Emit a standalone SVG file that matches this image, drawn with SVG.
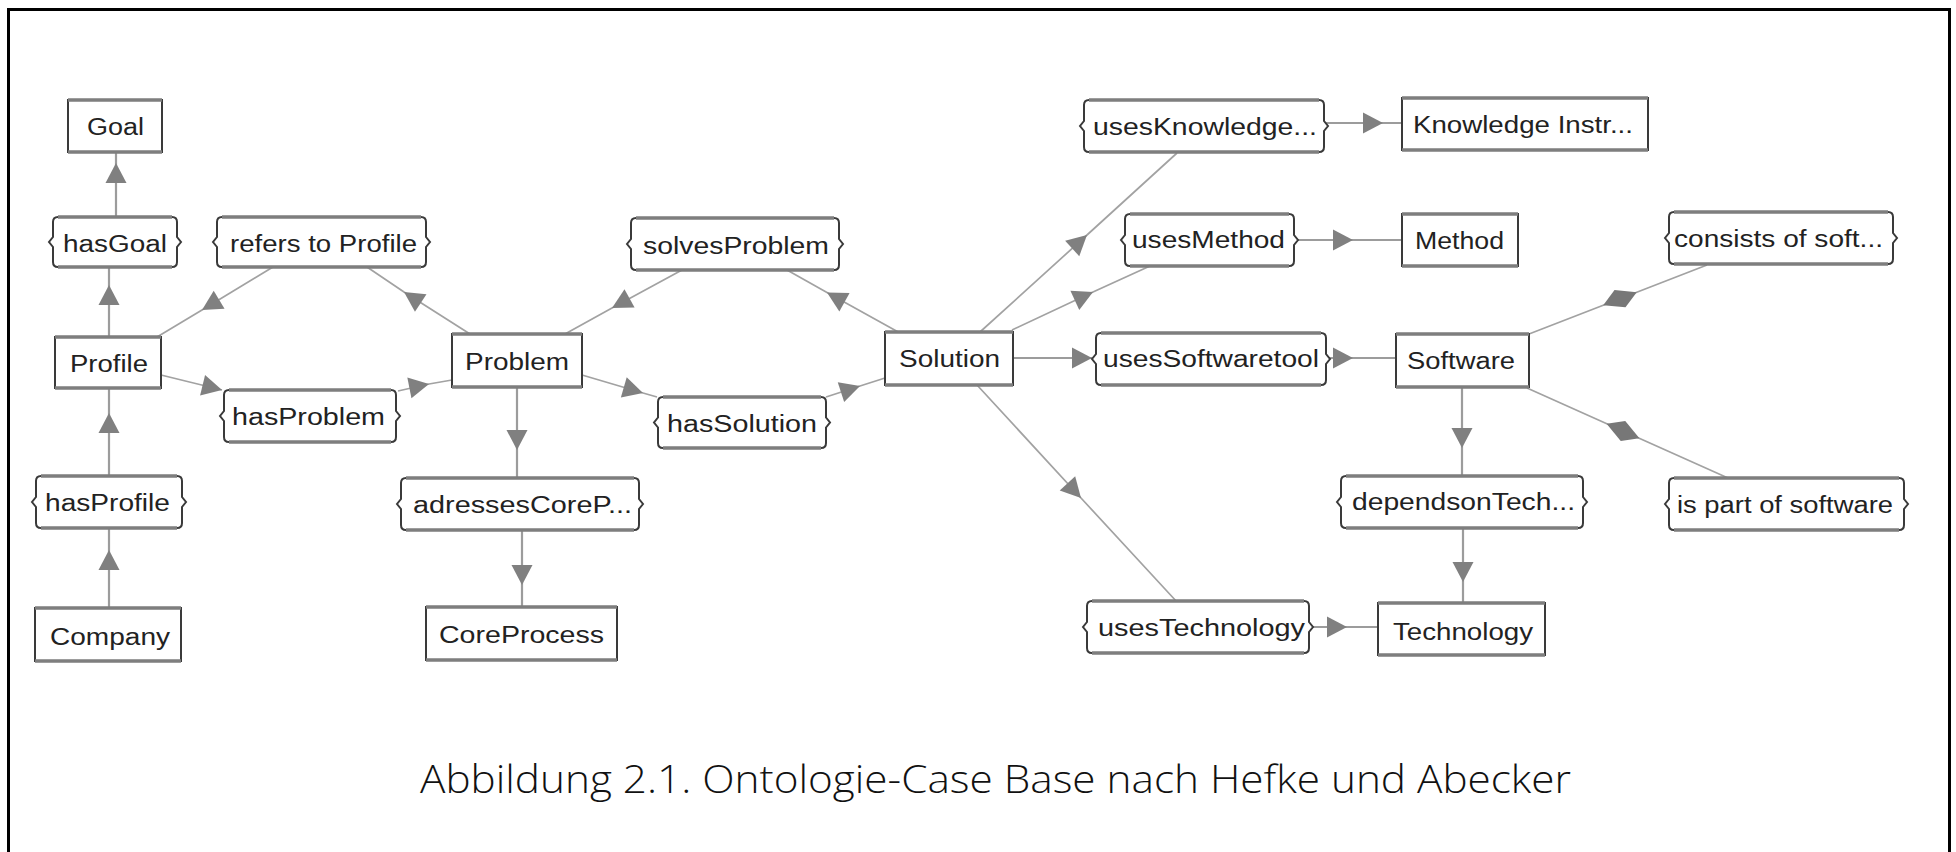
<svg xmlns="http://www.w3.org/2000/svg" width="1956" height="852" viewBox="0 0 1956 852">
  <style>
    .frame { fill: none; stroke: #000; stroke-width: 3; }
    .box { fill: #fff; stroke: #3a3a3a; stroke-width: 2; }
    .band { fill: none; stroke: #7e7e7e; stroke-width: 3.5; }
    .lbl { font-family: "Liberation Sans", Arial, sans-serif; font-size: 23px; fill: #222; }
    .edge { fill: none; stroke: #9c9c9c; stroke-width: 2.2; }
    .diag { fill: none; stroke: #a2a2a2; stroke-width: 1.7; }
    .arr { marker-mid: url(#tri); }
    .arr-end { marker-end: url(#tri); }
    .dia { marker-mid: url(#diamond); }
    .caption { font-family: "Open Sans", "Noto Sans", sans-serif; font-weight: 300; font-size: 39px; fill: #111; }
  </style>
  <defs>
    <marker id="tri" viewBox="-21 -12 22 24" markerWidth="22" markerHeight="24" refX="0" refY="0" orient="auto" markerUnits="userSpaceOnUse">
      <path d="M0,0 L-20,-10.5 L-20,10.5 Z" fill="#808080"/>
    </marker>
    <marker id="diamond" viewBox="-20 -12 40 24" markerWidth="40" markerHeight="24" refX="0" refY="0" orient="auto" markerUnits="userSpaceOnUse">
      <path d="M-18,0 L-2,-10 L18,0 L2,10 Z" fill="#777"/>
    </marker>
  </defs>

  <rect width="1956" height="852" fill="#fff"/>
  <!-- page frame, open at the bottom -->
  <path class="frame" d="M8.5,852 V9.5 H1949.5 V852"/>

  <!-- connectors -->
  <g id="connectors">
    <path class="edge arr" d="M116,217 L116,163 L116,152"/>
    <path class="edge arr" d="M109,337 L109,285 L109,267"/>
    <path class="edge arr" d="M109,476 L109,413 L109,388"/>
    <path class="edge arr" d="M109,608 L109,550 L109,528"/>
    <path class="diag arr" d="M470,334 L404,292 L367,267"/>
    <path class="diag arr" d="M273,267 L202,310 L157,337"/>
    <path class="diag arr-end" d="M161,375 L222,390"/>
    <path class="diag arr" d="M398,391 L429,384 L452,380"/>
    <path class="diag arr" d="M900,333 L827,292.5 L787,270"/>
    <path class="diag arr" d="M682,270 L612,308 L565,334"/>
    <path class="diag arr" d="M582,375 L643,393 L657,397"/>
    <path class="diag arr" d="M826,397 L860,386 L885,378"/>
    <path class="edge arr" d="M517,387 L517,450 L517,478"/>
    <path class="edge arr" d="M522,530 L522,585 L522,607"/>
    <path class="diag arr" d="M980,332 L1087,235 L1177,153"/>
    <path class="edge arr" d="M1324,123 L1383,123 L1402,123"/>
    <path class="diag arr" d="M1012,330 L1093,292 L1150,266"/>
    <path class="edge arr" d="M1294,240 L1353,240 L1402,240"/>
    <path class="edge arr-end" d="M1013,358 L1092,358"/>
    <path class="edge arr" d="M1326,358 L1353,358 L1396,358"/>
    <path class="diag arr" d="M977,385 L1081,498 L1177,602"/>
    <path class="edge arr" d="M1309,627 L1347,627 L1378,627"/>
    <path class="edge arr" d="M1462,387 L1462,448 L1462,477"/>
    <path class="edge arr" d="M1463,528 L1463,582 L1463,603"/>
    <path class="diag dia" d="M1529,334 L1620,298.7 L1707,265"/>
    <path class="diag dia" d="M1527,388 L1623,431 L1728,478"/>
  </g>

  <!-- classes -->
  <g id="node-goal">
    <rect class="box" x="68" y="100" width="94" height="52"/>
    <path class="band" d="M68,100H162M68,152H162"/>
    <text class="lbl" x="87" y="135" textLength="57" lengthAdjust="spacingAndGlyphs">Goal</text>
  </g>
  <g id="node-profile">
    <rect class="box" x="55" y="337" width="106" height="51"/>
    <path class="band" d="M55,337H161M55,388H161"/>
    <text class="lbl" x="70" y="372" textLength="78" lengthAdjust="spacingAndGlyphs">Profile</text>
  </g>
  <g id="node-company">
    <rect class="box" x="35" y="608" width="146" height="53"/>
    <path class="band" d="M35,608H181M35,661H181"/>
    <text class="lbl" x="50" y="645" textLength="120" lengthAdjust="spacingAndGlyphs">Company</text>
  </g>
  <g id="node-problem">
    <rect class="box" x="452" y="334" width="130" height="53"/>
    <path class="band" d="M452,334H582M452,387H582"/>
    <text class="lbl" x="465" y="370" textLength="104" lengthAdjust="spacingAndGlyphs">Problem</text>
  </g>
  <g id="node-coreprocess">
    <rect class="box" x="426" y="607" width="191" height="53"/>
    <path class="band" d="M426,607H617M426,660H617"/>
    <text class="lbl" x="439" y="643" textLength="165" lengthAdjust="spacingAndGlyphs">CoreProcess</text>
  </g>
  <g id="node-solution">
    <rect class="box" x="885" y="332" width="128" height="53"/>
    <path class="band" d="M885,332H1013M885,385H1013"/>
    <text class="lbl" x="899" y="367" textLength="101" lengthAdjust="spacingAndGlyphs">Solution</text>
  </g>
  <g id="node-knowledge">
    <rect class="box" x="1402" y="98" width="246" height="52"/>
    <path class="band" d="M1402,98H1648M1402,150H1648"/>
    <text class="lbl" x="1413" y="133" textLength="220" lengthAdjust="spacingAndGlyphs">Knowledge Instr...</text>
  </g>
  <g id="node-method">
    <rect class="box" x="1402" y="214" width="116" height="52"/>
    <path class="band" d="M1402,214H1518M1402,266H1518"/>
    <text class="lbl" x="1415" y="249" textLength="89" lengthAdjust="spacingAndGlyphs">Method</text>
  </g>
  <g id="node-software">
    <rect class="box" x="1396" y="334" width="133" height="53"/>
    <path class="band" d="M1396,334H1529M1396,387H1529"/>
    <text class="lbl" x="1407" y="369" textLength="108" lengthAdjust="spacingAndGlyphs">Software</text>
  </g>
  <g id="node-technology">
    <rect class="box" x="1378" y="603" width="167" height="52"/>
    <path class="band" d="M1378,603H1545M1378,655H1545"/>
    <text class="lbl" x="1393" y="640" textLength="140" lengthAdjust="spacingAndGlyphs">Technology</text>
  </g>

  <!-- properties (brace-ended boxes) -->
  <g id="prop-hasgoal">
    <path class="box" d="M58,217 H172 Q177,217 177,222 V237 L181,242 L177,247 V262 Q177,267 172,267 H58 Q53,267 53,262 V247 L49,242 L53,237 V222 Q53,217 58,217 Z"/>
    <path class="band" d="M58,217H172M58,267H172"/>
    <text class="lbl" x="63" y="252" textLength="104" lengthAdjust="spacingAndGlyphs">hasGoal</text>
  </g>
  <g id="prop-refers">
    <path class="box" d="M222,217 H421 Q426,217 426,222 V237 L430,242 L426,247 V262 Q426,267 421,267 H222 Q217,267 217,262 V247 L213,242 L217,237 V222 Q217,217 222,217 Z"/>
    <path class="band" d="M222,217H421M222,267H421"/>
    <text class="lbl" x="230" y="252" textLength="187" lengthAdjust="spacingAndGlyphs">refers to Profile</text>
  </g>
  <g id="prop-hasproblem">
    <path class="box" d="M229,390 H391 Q396,390 396,395 V411 L400,416 L396,421 V437 Q396,442 391,442 H229 Q224,442 224,437 V421 L220,416 L224,411 V395 Q224,390 229,390 Z"/>
    <path class="band" d="M229,390H391M229,442H391"/>
    <text class="lbl" x="232" y="425" textLength="153" lengthAdjust="spacingAndGlyphs">hasProblem</text>
  </g>
  <g id="prop-hasprofile">
    <path class="box" d="M41,476 H177 Q182,476 182,481 V497 L186,502 L182,507 V523 Q182,528 177,528 H41 Q36,528 36,523 V507 L32,502 L36,497 V481 Q36,476 41,476 Z"/>
    <path class="band" d="M41,476H177M41,528H177"/>
    <text class="lbl" x="45" y="511" textLength="125" lengthAdjust="spacingAndGlyphs">hasProfile</text>
  </g>
  <g id="prop-adresses">
    <path class="box" d="M406,478 H634 Q639,478 639,483 V499 L643,504 L639,509 V525 Q639,530 634,530 H406 Q401,530 401,525 V509 L397,504 L401,499 V483 Q401,478 406,478 Z"/>
    <path class="band" d="M406,478H634M406,530H634"/>
    <text class="lbl" x="413" y="513" textLength="219" lengthAdjust="spacingAndGlyphs">adressesCoreP...</text>
  </g>
  <g id="prop-solvesproblem">
    <path class="box" d="M636,218 H834 Q839,218 839,223 V239 L843,244 L839,249 V265 Q839,270 834,270 H636 Q631,270 631,265 V249 L627,244 L631,239 V223 Q631,218 636,218 Z"/>
    <path class="band" d="M636,218H834M636,270H834"/>
    <text class="lbl" x="643" y="254" textLength="186" lengthAdjust="spacingAndGlyphs">solvesProblem</text>
  </g>
  <g id="prop-hassolution">
    <path class="box" d="M663,397 H821 Q826,397 826,402 V417.5 L830,422.5 L826,427.5 V443 Q826,448 821,448 H663 Q658,448 658,443 V427.5 L654,422.5 L658,417.5 V402 Q658,397 663,397 Z"/>
    <path class="band" d="M663,397H821M663,448H821"/>
    <text class="lbl" x="667" y="432" textLength="150" lengthAdjust="spacingAndGlyphs">hasSolution</text>
  </g>
  <g id="prop-usesknowledge">
    <path class="box" d="M1089,100 H1319 Q1324,100 1324,105 V121 L1328,126 L1324,131 V147 Q1324,152 1319,152 H1089 Q1084,152 1084,147 V131 L1080,126 L1084,121 V105 Q1084,100 1089,100 Z"/>
    <path class="band" d="M1089,100H1319M1089,152H1319"/>
    <text class="lbl" x="1093" y="135" textLength="224" lengthAdjust="spacingAndGlyphs">usesKnowledge...</text>
  </g>
  <g id="prop-usesmethod">
    <path class="box" d="M1130,214 H1289 Q1294,214 1294,219 V235 L1298,240 L1294,245 V261 Q1294,266 1289,266 H1130 Q1125,266 1125,261 V245 L1121,240 L1125,235 V219 Q1125,214 1130,214 Z"/>
    <path class="band" d="M1130,214H1289M1130,266H1289"/>
    <text class="lbl" x="1132" y="248" textLength="153" lengthAdjust="spacingAndGlyphs">usesMethod</text>
  </g>
  <g id="prop-usessoftwaretool">
    <path class="box" d="M1101,333 H1321 Q1326,333 1326,338 V354 L1330,359 L1326,364 V380 Q1326,385 1321,385 H1101 Q1096,385 1096,380 V364 L1092,359 L1096,354 V338 Q1096,333 1101,333 Z"/>
    <path class="band" d="M1101,333H1321M1101,385H1321"/>
    <text class="lbl" x="1103" y="367" textLength="216" lengthAdjust="spacingAndGlyphs">usesSoftwaretool</text>
  </g>
  <g id="prop-consists">
    <path class="box" d="M1674,212 H1888 Q1893,212 1893,217 V233 L1897,238 L1893,243 V259 Q1893,264 1888,264 H1674 Q1669,264 1669,259 V243 L1665,238 L1669,233 V217 Q1669,212 1674,212 Z"/>
    <path class="band" d="M1674,212H1888M1674,264H1888"/>
    <text class="lbl" x="1674" y="247" textLength="209" lengthAdjust="spacingAndGlyphs">consists of soft...</text>
  </g>
  <g id="prop-ispartof">
    <path class="box" d="M1674,478 H1899 Q1904,478 1904,483 V499 L1908,504 L1904,509 V525 Q1904,530 1899,530 H1674 Q1669,530 1669,525 V509 L1665,504 L1669,499 V483 Q1669,478 1674,478 Z"/>
    <path class="band" d="M1674,478H1899M1674,530H1899"/>
    <text class="lbl" x="1677" y="513" textLength="216" lengthAdjust="spacingAndGlyphs">is part of software</text>
  </g>
  <g id="prop-dependson">
    <path class="box" d="M1346,476 H1578 Q1583,476 1583,481 V497 L1587,502 L1583,507 V523 Q1583,528 1578,528 H1346 Q1341,528 1341,523 V507 L1337,502 L1341,497 V481 Q1341,476 1346,476 Z"/>
    <path class="band" d="M1346,476H1578M1346,528H1578"/>
    <text class="lbl" x="1352" y="510" textLength="223" lengthAdjust="spacingAndGlyphs">dependsonTech...</text>
  </g>
  <g id="prop-usestechnology">
    <path class="box" d="M1092,601 H1304 Q1309,601 1309,606 V622 L1313,627 L1309,632 V648 Q1309,653 1304,653 H1092 Q1087,653 1087,648 V632 L1083,627 L1087,622 V606 Q1087,601 1092,601 Z"/>
    <path class="band" d="M1092,601H1304M1092,653H1304"/>
    <text class="lbl" x="1098" y="636" textLength="207" lengthAdjust="spacingAndGlyphs">usesTechnology</text>
  </g>

  <text class="caption" x="420" y="793" textLength="1151" lengthAdjust="spacingAndGlyphs">Abbildung 2.1. Ontologie-Case Base nach Hefke und Abecker</text>
</svg>
